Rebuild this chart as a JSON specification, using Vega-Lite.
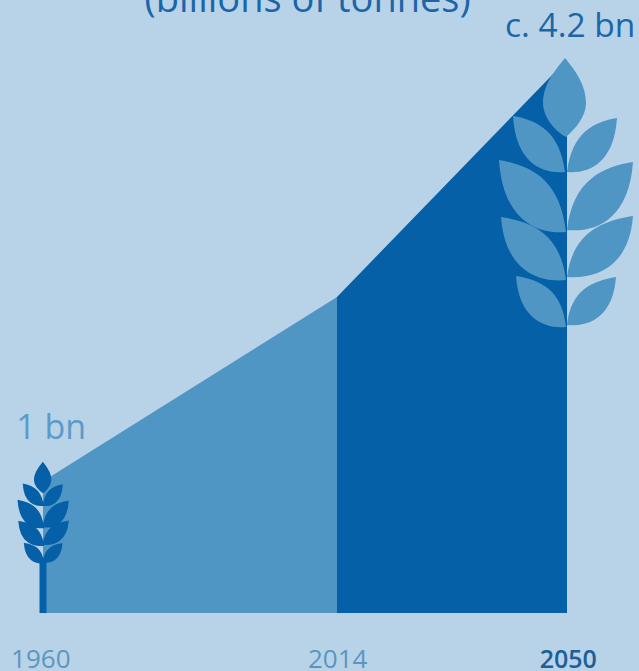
{"$schema":"https://vega.github.io/schema/vega-lite/v6.json","width":639,"height":671,"padding":0,"autosize":{"type":"none"},"background":"#b8d3e8","view":{"stroke":null},"config":{"font":"Open Sans"},"datasets":{"past":[{"year":1960,"value":1},{"year":2014,"value":2.4}],"future":[{"year":2014,"value":2.4},{"year":2050,"value":4.2}],"bigWheat":[{"year":2050,"value":3.174}],"smallWheat":[{"year":1960.1,"value":0.754}],"stem":[{"year":1960,"value":0,"top":0.4}]},"encoding":{"x":{"field":"year","type":"quantitative","axis":null,"scale":{"domain":[1952.1,1960,2014,2050,2061.27],"range":[0,43,337,567,639]}},"y":{"field":"value","type":"quantitative","axis":null,"scale":{"domain":[-0.44,4.654],"nice":false,"zero":false}}},"layer":[{"data":{"name":"past"},"mark":{"type":"area","color":"#4f96c5"},"encoding":{"y2":{"datum":0}}},{"data":{"name":"future"},"mark":{"type":"area","color":"#0560a8"},"encoding":{"y2":{"datum":0}}},{"data":{"name":"stem"},"mark":{"type":"rule","color":"#0560a8","strokeWidth":7},"encoding":{"y2":{"field":"top"}}},{"data":{"name":"bigWheat"},"mark":{"type":"point","filled":true,"opacity":1,"color":"#4f96c5","size":4,"shape":"M-2 -137C8 -125 19 -110 19 -92C19 -78 8 -66 -1 -58C-12 -64 -24 -78 -24 -92C-24 -110 -12 -125 -2 -137ZM-54 -79C-30 -75 -7 -64 -2 -23C-24 -21 -51 -31 -54 -79ZM50 -77C27 -73 5 -63 0 -23C21 -21 47 -31 50 -77ZM-68 -35C-36 -29 -7 -16 -1 37C-29 40 -64 26 -68 -35ZM66 -33C35 -28 6 -15 0 35C28 38 62 25 66 -33ZM-66 22C-35 27 -7 38 -1 85C-28 88 -62 76 -66 22ZM66 21C35 26 6 37 0 82C28 84 62 73 66 21ZM-51 81C-27 85 -5 94 -1 132C-22 134 -48 124 -51 81ZM49 82C26 86 4 94 0 130C21 132 46 123 49 82Z"}},{"data":{"name":"smallWheat"},"mark":{"type":"point","filled":true,"opacity":1,"color":"#0560a8","stroke":"#0560a8","strokeWidth":1.5,"size":0.5476,"shape":"M-2 -137C8 -125 19 -110 19 -92C19 -78 8 -66 -1 -58C-12 -64 -24 -78 -24 -92C-24 -110 -12 -125 -2 -137ZM-54 -79C-30 -75 -7 -64 -2 -23C-24 -21 -51 -31 -54 -79ZM50 -77C27 -73 5 -63 0 -23C21 -21 47 -31 50 -77ZM-68 -35C-36 -29 -7 -16 -1 37C-29 40 -64 26 -68 -35ZM66 -33C35 -28 6 -15 0 35C28 38 62 25 66 -33ZM-66 22C-35 27 -7 38 -1 85C-28 88 -62 76 -66 22ZM66 21C35 26 6 37 0 82C28 84 62 73 66 21ZM-51 81C-27 85 -5 94 -1 132C-22 134 -48 124 -51 81ZM49 82C26 86 4 94 0 130C21 132 46 123 49 82Z"}},{"data":{"values":[{"year":2008.6,"value":4.563,"label":"(billions of tonnes)"}]},"mark":{"type":"text","fontSize":38,"color":"#1b66a8","align":"center","baseline":"alphabetic"},"encoding":{"text":{"field":"label"}}},{"data":{"values":[{"year":2050.5,"value":4.374,"label":"c. 4.2 bn"}]},"mark":{"type":"text","fontSize":33.5,"color":"#1b66a8","align":"center","baseline":"alphabetic"},"encoding":{"text":{"field":"label"}}},{"data":{"values":[{"year":1961.5,"value":1.321,"label":"1 bn"}]},"mark":{"type":"text","fontSize":34,"color":"#5b9bc8","align":"center","baseline":"alphabetic"},"encoding":{"text":{"field":"label"}}},{"data":{"values":[{"year":1959.6,"value":-0.418,"label":"1960"},{"year":2014.1,"value":-0.418,"label":"2014"}]},"mark":{"type":"text","fontSize":26,"color":"#5b96bf","align":"center","baseline":"alphabetic"},"encoding":{"text":{"field":"label"}}},{"data":{"values":[{"year":2050.2,"value":-0.418,"label":"2050"}]},"mark":{"type":"text","fontSize":25,"fontWeight":600,"color":"#1d5f98","align":"center","baseline":"alphabetic"},"encoding":{"text":{"field":"label"}}}]}
